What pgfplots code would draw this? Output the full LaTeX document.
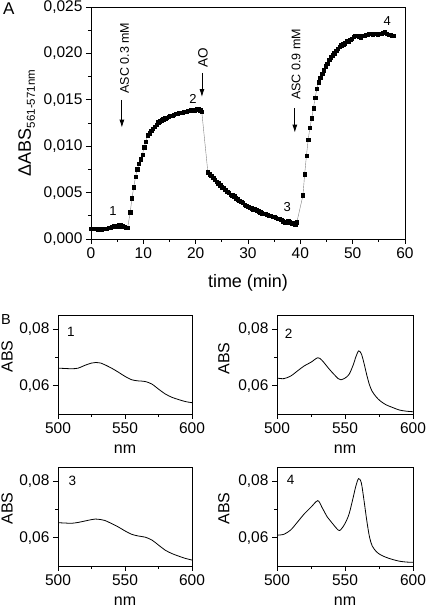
\documentclass[border=0pt]{standalone}
\usepackage{pgfplots}
\pgfplotsset{compat=1.18}
\usepackage{fontspec}
\setmainfont{Liberation Sans}
\usetikzlibrary{arrows.meta}

\pgfplotstableread{
t v
0.00 0.0011
0.33 0.0011
0.67 0.0011
1.00 0.0011
1.33 0.0010
1.67 0.0011
2.00 0.0010
2.33 0.0011
2.67 0.0011
3.00 0.0011
3.33 0.0012
3.67 0.0012
4.00 0.0013
4.33 0.0014
4.67 0.0014
5.00 0.0014
5.33 0.0015
5.67 0.0015
6.00 0.0014
6.33 0.0013
6.67 0.0012
7.00 0.0012
7.50 0.0029
7.83 0.0044
8.17 0.0056
8.50 0.0067
8.83 0.0075
9.17 0.0081
9.50 0.0086
9.83 0.0091
10.17 0.0099
10.50 0.0105
10.83 0.0112
11.17 0.0114
11.50 0.0117
11.83 0.0119
12.17 0.0121
12.50 0.0123
12.83 0.0126
13.17 0.0127
13.50 0.0128
13.83 0.0129
14.17 0.0130
14.50 0.0131
14.83 0.0132
15.17 0.0133
15.50 0.0133
15.83 0.0134
16.17 0.0135
16.50 0.0135
16.83 0.0136
17.17 0.0136
17.50 0.0136
17.83 0.0137
18.17 0.0137
18.50 0.0138
18.83 0.0138
19.17 0.0139
19.50 0.0139
19.83 0.0139
20.17 0.0140
20.50 0.0140
20.83 0.0139
21.17 0.0137
22.33 0.0072
22.67 0.0070
23.00 0.0068
23.33 0.0066
23.67 0.0064
24.00 0.0062
24.33 0.0060
24.67 0.0058
25.00 0.0056
25.33 0.0055
25.67 0.0053
26.00 0.0051
26.33 0.0050
26.67 0.0048
27.00 0.0047
27.33 0.0046
27.67 0.0044
28.00 0.0043
28.33 0.0041
28.67 0.0040
29.00 0.0039
29.33 0.0037
29.67 0.0036
30.00 0.0035
30.33 0.0034
30.67 0.0033
31.00 0.0032
31.33 0.0032
31.67 0.0031
32.00 0.0030
32.33 0.0029
32.67 0.0028
33.00 0.0027
33.33 0.0027
33.67 0.0026
34.00 0.0025
34.33 0.0025
34.67 0.0024
35.00 0.0024
35.33 0.0023
35.67 0.0022
36.00 0.0022
36.33 0.0021
36.67 0.0019
37.00 0.0018
37.33 0.0018
37.67 0.0019
38.00 0.0018
38.33 0.0017
38.67 0.0017
39.00 0.0016
39.33 0.0018
40.50 0.0047
40.83 0.0070
41.17 0.0090
41.50 0.0107
41.83 0.0120
42.17 0.0130
42.50 0.0141
42.83 0.0152
43.17 0.0162
43.50 0.0169
43.83 0.0174
44.17 0.0178
44.50 0.0182
44.83 0.0186
45.17 0.0189
45.50 0.0193
45.83 0.0196
46.17 0.0198
46.50 0.0200
46.83 0.0203
47.17 0.0205
47.50 0.0207
47.83 0.0209
48.17 0.0210
48.50 0.0211
48.83 0.0213
49.17 0.0213
49.50 0.0215
49.83 0.0216
50.17 0.0218
50.50 0.0219
50.83 0.0219
51.17 0.0218
51.50 0.0217
51.83 0.0219
52.17 0.0219
52.50 0.0220
52.83 0.0220
53.17 0.0221
53.50 0.0221
53.83 0.0220
54.17 0.0221
54.50 0.0221
54.83 0.0220
55.17 0.0221
55.50 0.0221
55.83 0.0222
56.17 0.0223
56.50 0.0221
56.83 0.0220
57.17 0.0220
57.50 0.0219
57.83 0.0219
}\kinetics

\pgfplotstableread{
nm a
500 0.0662
505 0.0661
510 0.0660
515 0.0662
520 0.0672
525 0.0680
528 0.0682
532 0.0680
535 0.0674
540 0.0662
545 0.0648
550 0.0633
555 0.0621
560 0.0617
565 0.0615
570 0.0606
575 0.0588
580 0.0571
585 0.0559
590 0.0551
595 0.0544
600 0.0540
}\specA

\pgfplotstableread{
nm a
500 0.0627
505 0.0625
510 0.0634
515 0.0652
520 0.0670
525 0.0683
530 0.0699
533 0.0690
537 0.0667
540 0.0650
545 0.0625
547 0.0621
550 0.0627
553 0.0640
556 0.0673
558 0.0702
560 0.0723
562 0.0713
564 0.0679
566 0.0638
568 0.0603
570 0.0580
573 0.0560
576 0.0546
580 0.0533
585 0.0523
590 0.0514
595 0.0510
600 0.0508
}\specB

\pgfplotstableread{
nm a
500 0.0653
505 0.0652
510 0.0651
515 0.0654
520 0.0659
525 0.0664
528 0.0666
532 0.0664
535 0.0661
540 0.0650
545 0.0638
550 0.0624
555 0.0612
560 0.0606
565 0.0602
570 0.0592
575 0.0574
580 0.0556
585 0.0544
590 0.0535
595 0.0527
600 0.0521
}\specC

\pgfplotstableread{
nm a
500 0.0609
505 0.0612
510 0.0627
515 0.0655
520 0.0684
525 0.0708
530 0.0731
533 0.0708
537 0.0673
540 0.0655
545 0.0627
547 0.0629
550 0.0650
553 0.0684
556 0.0742
558 0.0783
560 0.0809
562 0.0794
564 0.0731
566 0.0661
568 0.0603
570 0.0571
573 0.0551
576 0.0540
580 0.0531
585 0.0523
590 0.0517
595 0.0514
600 0.0513
}\specD

\pgfplotsset{
  myaxis/.style={
    scale only axis,
    anchor=south west,
    axis line style={line width=0.8pt},
    tick style={line width=0.8pt, black},
    tick align=outside,
    xtick pos=bottom, ytick pos=left,
    major tick length=5pt, minor tick length=3pt,
    scaled y ticks=false,
  },
  spec/.style={
    myaxis,
    width=134pt, height=99pt,
    xmin=500, xmax=600, ymin=0.050, ymax=0.085,
    xtick={500,550,600}, xticklabels={500,550,600},
    ytick={0.06,0.08}, yticklabels={{0,06},{0,08}},
    minor x tick num=1, minor ytick={0.07},
    ticklabel style={font=\fontsize{15.5}{17}\selectfont},
    xlabel={nm}, ylabel={ABS},
    label style={font=\fontsize{16}{17}\selectfont},
    xlabel style={at={(axis description cs:0.5,-0.40)}, anchor=base},
    ylabel style={at={(axis description cs:-0.38,0.58)}, anchor=center},
  },
}

\begin{document}
\begin{tikzpicture}
\useasboundingbox (0,0) rectangle (427pt,608pt);

\begin{axis}[myaxis,
  at={(91pt,369pt)}, width=314pt, height=232pt,
  xmin=0, xmax=60, ymin=0, ymax=0.025,
  xtick={0,10,...,60}, xticklabels={0,10,20,30,40,50,60},
  ytick={0,0.005,0.01,0.015,0.02,0.025},
  yticklabels={{0,000},{0,005},{0,010},{0,015},{0,020},{0,025}},
  minor x tick num=1, minor y tick num=1,
  ticklabel style={font=\fontsize{15.5}{17}\selectfont},
  xlabel={time (min)},
  xlabel style={font=\fontsize{18}{20}\selectfont, at={(axis description cs:0.5,-0.207)}, anchor=base},
  ylabel={ΔABS\raisebox{-4pt}{\fontsize{11.5}{12}\selectfont 561-571nm}},
  ylabel style={font=\fontsize{18}{20}\selectfont, at={(axis description cs:-0.205,0.5)}, anchor=center},
]
\addplot[gray, line width=0.4pt, mark=square*, mark size=1.7pt, mark options={fill=black, draw=black}] table[x=t, y=v] {\kinetics};
\node[font=\fontsize{13}{13}\selectfont] at (axis cs:4.2,0.0030) {1};
\node[font=\fontsize{13}{13}\selectfont] at (axis cs:19.5,0.0151) {2};
\node[font=\fontsize{13}{13}\selectfont] at (axis cs:37.5,0.0034) {3};
\node[font=\fontsize{13}{13}\selectfont] at (axis cs:56.6,0.0235) {4};
\draw[line width=0.8pt, -{Latex[length=8pt,width=5pt]}] (axis cs:5.9,0.0150) -- (axis cs:5.9,0.0120);
\draw[line width=0.8pt, -{Latex[length=8pt,width=5pt]}] (axis cs:21.2,0.0179) -- (axis cs:21.2,0.0153);
\draw[line width=0.8pt, -{Latex[length=8pt,width=5pt]}] (axis cs:38.95,0.0141) -- (axis cs:38.95,0.01146);
\node[rotate=90, font=\fontsize{12.5}{13}\selectfont] at (axis cs:6.4,0.0195) {ASC 0.3 mM};
\node[rotate=90, font=\fontsize{13.5}{14}\selectfont] at (axis cs:21.4,0.01956) {AO};
\node[rotate=90, font=\fontsize{12.5}{13}\selectfont] at (axis cs:39.2,0.0188) {ASC 0.9 mM};
\end{axis}

\begin{axis}[spec, at={(58pt,194pt)}]
\addplot[black, line width=0.8pt, smooth] table[x=nm, y=a] {\specA};
\node[font=\fontsize{13.5}{14}\selectfont] at (axis description cs:0.097,0.83) {1};
\end{axis}

\begin{axis}[spec, at={(277pt,194pt)}, width=136pt,
  ylabel style={at={(axis description cs:-0.39,0.56)}}]
\addplot[black, line width=0.8pt, smooth] table[x=nm, y=a] {\specB};
\node[font=\fontsize{13.5}{14}\selectfont] at (axis description cs:0.086,0.815) {2};
\end{axis}

\begin{axis}[spec, at={(58pt,42pt)}]
\addplot[black, line width=0.8pt, smooth] table[x=nm, y=a] {\specC};
\node[font=\fontsize{13.5}{14}\selectfont] at (axis description cs:0.108,0.86) {3};
\end{axis}

\begin{axis}[spec, at={(277pt,42pt)}, width=136pt,
  ylabel style={at={(axis description cs:-0.39,0.58)}}]
\addplot[black, line width=0.8pt, smooth] table[x=nm, y=a] {\specD};
\node[font=\fontsize{13.5}{14}\selectfont] at (axis description cs:0.10,0.87) {4};
\end{axis}

\node[font=\fontsize{17}{18}\selectfont] at (8.8pt,599pt) {A};
\node[font=\fontsize{14.5}{15}\selectfont] at (6pt,288pt) {B};
\end{tikzpicture}
\end{document}
